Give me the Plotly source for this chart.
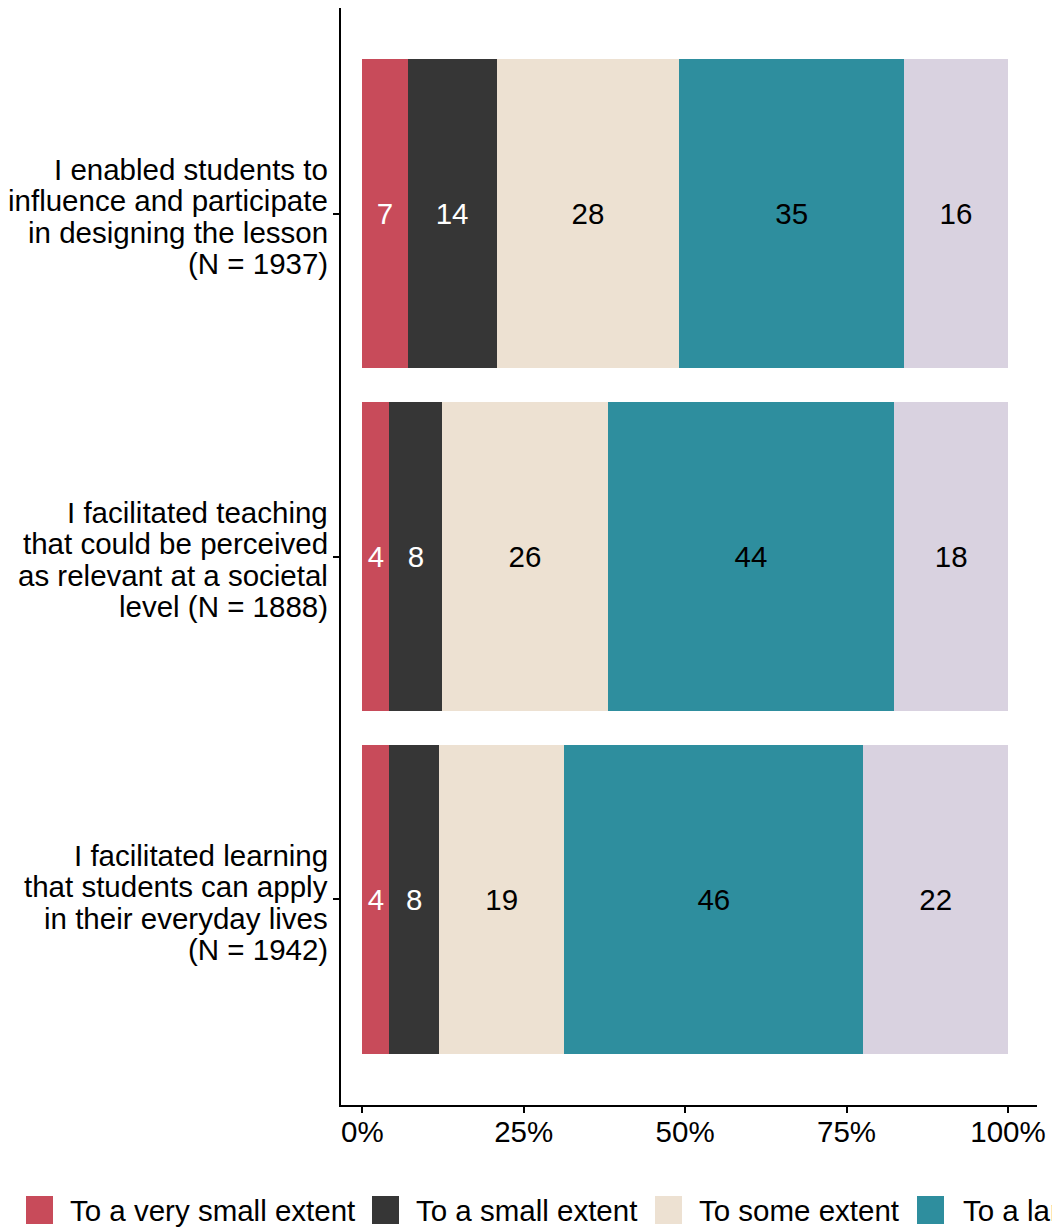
import plotly.graph_objects as go

# ---- data ----
categories = ["enabled", "teaching", "learning"]
label_lines = [
    ["I enabled students to", "influence and participate", "in designing the lesson", "(N = 1937)"],
    ["I facilitated teaching", "that could be perceived", "as relevant at a societal", "level (N = 1888)"],
    ["I facilitated learning", "that students can apply", "in their everyday lives", "(N = 1942)"],
]
levels = ["To a very small extent", "To a small extent", "To some extent",
          "To a large extent", "To a very large extent"]
v_very_small = [7.0, 4.2, 4.2]
v_small = [13.8, 8.2, 7.7]
v_some = [28.3, 25.6, 19.4]
v_large = [34.8, 44.4, 46.3]
v_very_large = [16.1, 17.6, 22.4]
series = [v_very_small, v_small, v_some, v_large, v_very_large]
x_ticks = [0, 25, 50, 75, 100]
x_tick_labels = ["0%", "25%", "50%", "75%", "100%"]

colors = ["#C84B5A", "#363636", "#EDE1D2", "#2E8E9E", "#D9D2E0"]
text_colors = ["white", "white", "black", "black", "black"]

FONT = "Liberation Sans, Arial, sans-serif"
FS = 29.5

W, H = 1052, 1231
ML, MR, MT, MB = 341, 15, 8, 126
PW, PH = W - ML - MR, H - MT - MB

fig = go.Figure()
for name, vals, col, tcol in zip(levels, series, colors, text_colors):
    fig.add_trace(go.Bar(
        y=categories, x=vals, name=name, orientation="h",
        marker=dict(color=col, line=dict(width=0)),
        width=0.9,
        texttemplate="%{x:.0f}", textposition="inside",
        insidetextanchor="middle", textangle=0,
        insidetextfont=dict(color=tcol, size=FS, family=FONT),
        showlegend=False,
    ))

def px_x(p):
    return (p - ML) / PW

def px_y(p):
    return (H - MB - p) / PH

annotations = []
line_gap = 31.5
for cat, lines in zip(categories, label_lines):
    n = len(lines)
    for i, ln in enumerate(lines):
        annotations.append(dict(
            text=ln, xref="paper", yref="y", x=px_x(330), y=cat,
            xanchor="right", yanchor="middle", showarrow=False,
            yshift=((n - 1) / 2 - i) * line_gap - 3,
            font=dict(size=FS, family=FONT, color="black"),
        ))

# custom legend (clipped at the right edge like the reference)
shapes = []
leg_sq_x = [26, 372, 655, 917, 1200]
leg_tx_x = [68, 414, 697, 961, 1244]
leg_cy = 1210
for name, col, sx, tx in zip(levels, colors, leg_sq_x, leg_tx_x):
    shapes.append(dict(type="rect", xref="paper", yref="paper",
                       x0=px_x(sx), x1=px_x(sx + 27),
                       y0=px_y(leg_cy + 14), y1=px_y(leg_cy - 14),
                       fillcolor=col, line=dict(width=0), layer="above"))
    annotations.append(dict(
        text=name, xref="paper", yref="paper", x=px_x(tx), y=px_y(leg_cy),
        xanchor="left", yanchor="middle", showarrow=False,
        font=dict(size=FS, family=FONT, color="black"),
    ))

fig.update_layout(
    barmode="stack",
    width=W, height=H,
    margin=dict(l=ML, r=MR, t=MT, b=MB, autoexpand=False),
    paper_bgcolor="white", plot_bgcolor="white",
    font=dict(family=FONT, size=FS, color="black"),
    annotations=annotations, shapes=shapes,
    showlegend=False,
)
fig.update_xaxes(
    range=[-3.3, 104.5], tickmode="array", tickvals=x_ticks, ticktext=x_tick_labels,
    showgrid=False, zeroline=False,
    showline=True, linecolor="black", linewidth=2,
    ticks="",
    minor=dict(tickmode="array", tickvals=x_ticks, ticks="outside",
               ticklen=6, tickwidth=2, tickcolor="black", showgrid=False),
    tickfont=dict(size=FS, family=FONT, color="black"),
)
fig.update_yaxes(
    categoryorder="array", categoryarray=categories,
    range=[2.6, -0.6],
    showgrid=False, zeroline=False,
    showline=True, linecolor="black", linewidth=2,
    ticks="outside", ticklen=6, tickwidth=2, tickcolor="black",
    showticklabels=False,
)

fig.write_html("out.html", config={"displayModeBar": False},
               post_script="document.body.style.margin='0';")
